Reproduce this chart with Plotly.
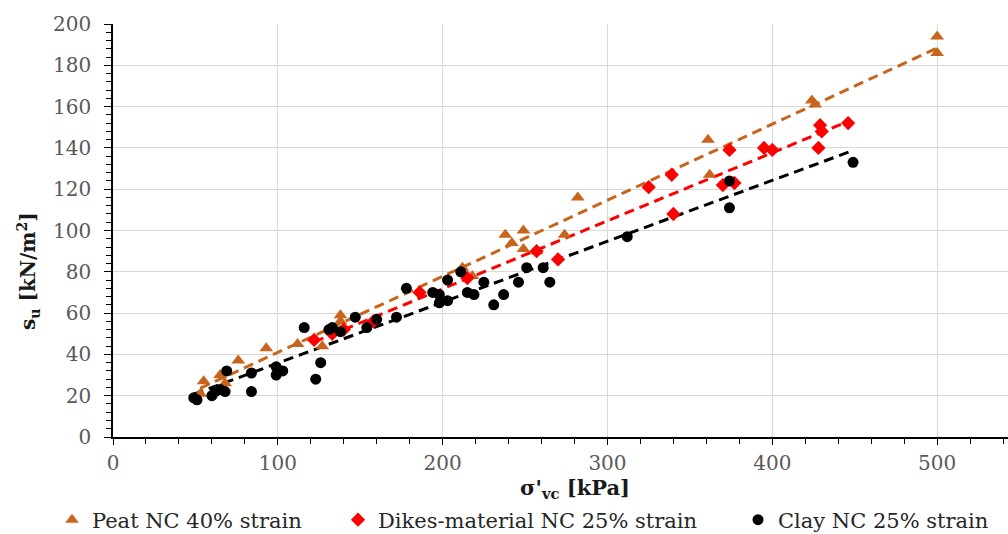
import numpy as np
import plotly.graph_objects as go

# ---- data ----
peat_x = [53, 55, 65, 68, 76, 93, 112, 127, 138, 138, 212, 218, 238, 242, 249, 249, 257, 274, 282, 361, 362, 424, 426, 500, 500]
peat_y = [21, 27, 30, 26, 37, 43, 45, 44, 59, 56, 82, 78, 98, 94, 100, 91, 90, 98, 116, 144, 127, 163, 161, 194, 186]

dike_x = [122, 133, 140, 158, 186, 215, 257, 270, 325, 339, 340, 370, 377, 374, 395, 400, 428, 429, 430, 446]
dike_y = [47, 50, 52, 56, 70, 77, 90, 86, 121, 127, 108, 122, 123, 139, 140, 139, 140, 151, 148, 152]

clay_x = [49, 51, 60, 62, 65, 68, 69, 84, 84, 99, 99, 103, 116, 123, 126, 131, 133, 138, 147, 154, 160, 172, 178,
          194, 198, 198, 203, 203, 211, 215, 219, 225, 231, 237, 246, 251, 261, 265, 312, 374, 374, 449]
clay_y = [19, 18, 20, 22, 23, 22, 32, 31, 22, 34, 30, 32, 53, 28, 36, 52, 53, 51, 58, 53, 57, 58, 72,
          70, 69, 65, 66, 76, 80, 70, 69, 75, 64, 69, 75, 82, 82, 75, 97, 124, 111, 133]

series_names = ["Peat NC 40% strain", "Dikes-material NC 25% strain", "Clay NC 25% strain"]
x_ticks = [0, 100, 200, 300, 400, 500]
y_ticks = [0, 20, 40, 60, 80, 100, 120, 140, 160, 180, 200]

ORANGE = "#C8641C"
RED = "#FF0000"
BLACK = "#000000"
FONT = "DejaVu Serif"

fig = go.Figure()

def trend(xs, ys):
    m, b = np.polyfit(xs, ys, 1)
    xx = np.array([min(xs), max(xs)])
    return xx, m * xx + b

series = [
    (peat_x, peat_y, series_names[0], ORANGE, "triangle-up", 12, "legend"),
    (dike_x, dike_y, series_names[1], RED, "diamond", 11, "legend2"),
    (clay_x, clay_y, series_names[2], BLACK, "circle", 11, "legend3"),
]

for xs, ys, name, col, sym, size, lg in series:
    tx, ty = trend(xs, ys)
    fig.add_trace(go.Scatter(x=tx, y=ty, mode="lines", showlegend=False,
                             line=dict(color=col, width=3, dash="10px,6px"), hoverinfo="skip"))

for xs, ys, name, col, sym, size, lg in series:
    fig.add_trace(go.Scatter(x=xs, y=ys, mode="markers", name=name, legend=lg,
                             marker=dict(symbol=sym, size=size, color=col)))

W, H = 1008, 534
L, R, T, B = 113, 0, 24, 97
pw, ph = W - L - R, H - T - B

def px2paper_x(p):
    return (p - L) / pw

def px2paper_y(p):
    return (H - B - p) / ph

legend_common = dict(orientation="h", yanchor="middle", xanchor="left",
                     font=dict(family=FONT, size=21, color="#262626"),
                     bgcolor="rgba(0,0,0,0)", itemwidth=30)

fig.update_layout(
    width=W, height=H,
    margin=dict(l=L, r=R, t=T, b=B, autoexpand=False),
    paper_bgcolor="white", plot_bgcolor="white",
    font=dict(family=FONT),
    legend=dict(x=px2paper_x(52), y=px2paper_y(520), **legend_common),
    legend2=dict(x=px2paper_x(338), y=px2paper_y(520), **legend_common),
    legend3=dict(x=px2paper_x(738), y=px2paper_y(520), **legend_common),
    xaxis=dict(range=[0, 543], tickvals=x_ticks, showgrid=True, gridcolor="#D9D9D9", gridwidth=1,
               showline=True, linecolor="black", linewidth=1.5, zeroline=False,
               ticks="outside", ticklen=6, tickcolor="black", tickwidth=1,
               minor=dict(dtick=20, ticks="outside", ticklen=5, tickcolor="black", showgrid=False),
               tickfont=dict(family=FONT, size=20, color="#595959"), ticklabelstandoff=1),
    yaxis=dict(range=[0, 200], tickvals=y_ticks, showgrid=True, gridcolor="#D9D9D9", gridwidth=1,
               showline=True, linecolor="black", linewidth=1.5, zeroline=False,
               ticks="outside", ticklen=7, tickcolor="black", tickwidth=1,
               minor=dict(dtick=4, ticks="outside", ticklen=5, tickcolor="black", showgrid=False),
               tickfont=dict(family=FONT, size=20, color="#595959"), ticklabelstandoff=9),
    annotations=[
        dict(text="<b>σ'<sub>vc</sub> [kPa]</b>", xref="paper", yref="paper",
             x=px2paper_x(575), y=px2paper_y(488), showarrow=False,
             xanchor="center", yanchor="middle", font=dict(family=FONT, size=21, color="#1a1a1a")),
        dict(text="<b>s<sub>u</sub> [kN/m<sup>2</sup>]</b>", xref="paper", yref="paper",
             x=px2paper_x(28), y=px2paper_y(271), showarrow=False, textangle=-90,
             xanchor="center", yanchor="middle", font=dict(family=FONT, size=20, color="#1a1a1a")),
    ],
)

fig.write_html("out.html", config={"displayModeBar": False},
               post_script="document.body.style.margin='0';document.body.style.overflow='hidden';")
